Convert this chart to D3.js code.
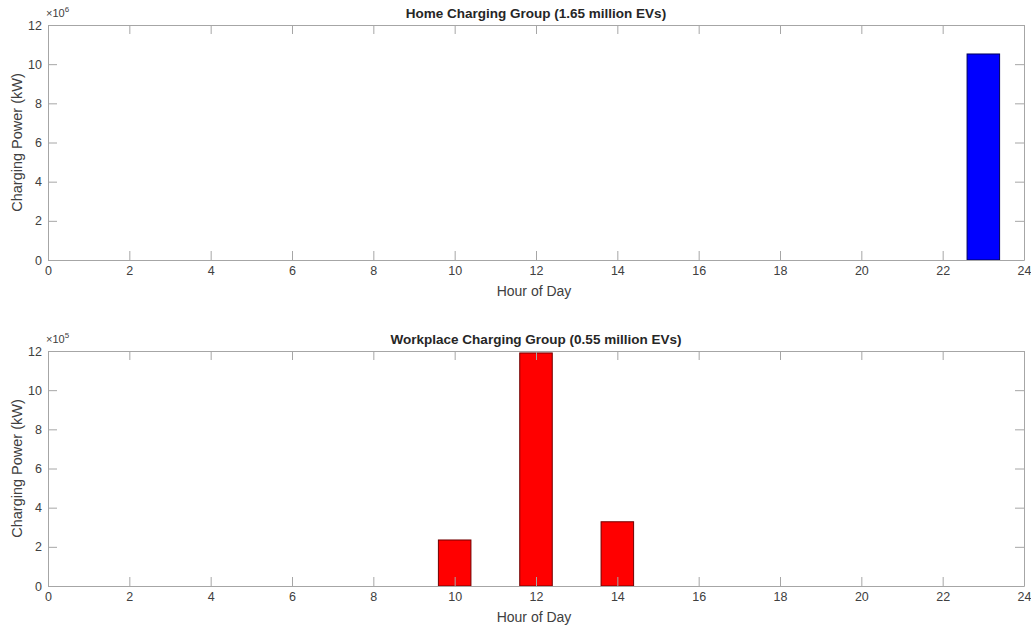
<!DOCTYPE html>
<html><head><meta charset="utf-8">
<script src="https://cdn.jsdelivr.net/npm/d3@7"></script>
<style>body{margin:0;background:#fff;font-family:"Liberation Sans",Arial,sans-serif}</style>
</head><body><svg id="c" width="1031" height="627"></svg>
<script>
const xTicks = [0,2,4,6,8,10,12,14,16,18,20,22,24];
const yTicks = [0,2,4,6,8,10,12];
const homeHours = [23];
const homeValues = [10.52e6];
const workHours = [10,12,14];
const workValues = [2.35e5,11.9e5,3.28e5];
const panels = [
  {title:"Home Charging Group (1.65 million EVs)", hours:homeHours, values:homeValues, exp:6, fill:"#0000ff", stroke:"#00005a", top:25, bottom:260},
  {title:"Workplace Charging Group (0.55 million EVs)", hours:workHours, values:workValues, exp:5, fill:"#ff0000", stroke:"#700000", top:351, bottom:586}
];
const svg = d3.select("#c");
const L = 48, R = 1024;
const axisColor = "#a6a6a6", textColor = "#404040";
panels.forEach(p => {
  const x = d3.scaleLinear().domain([0,24]).range([L,R]);
  const y = d3.scaleLinear().domain([0,12]).range([p.bottom,p.top]);
  const s = Math.pow(10,p.exp);
  const g = svg.append("g");
  g.selectAll("rect.bar").data(p.hours.map((h,i)=>({h,v:p.values[i]/s}))).enter().append("rect")
    .attr("x", d=>x(d.h-0.4)).attr("width", d=>x(d.h+0.4)-x(d.h-0.4))
    .attr("y", d=>y(d.v)).attr("height", d=>y(0)-y(d.v))
    .attr("fill", p.fill).attr("stroke", p.stroke).attr("stroke-width",1);
  const tl = 9;
  const ax = g.append("g").attr("transform",`translate(0,${p.bottom})`)
    .call(d3.axisBottom(x).tickValues(xTicks).tickSizeInner(-tl).tickSizeOuter(0).tickPadding(6));
  const axT = g.append("g").attr("transform",`translate(0,${p.top})`)
    .call(d3.axisTop(x).tickValues(xTicks).tickSizeInner(-tl).tickSizeOuter(0).tickFormat(""));
  const ay = g.append("g").attr("transform",`translate(${L},0)`)
    .call(d3.axisLeft(y).tickValues(yTicks).tickSizeInner(-tl).tickSizeOuter(0).tickPadding(6));
  const ayR = g.append("g").attr("transform",`translate(${R},0)`)
    .call(d3.axisRight(y).tickValues(yTicks).tickSizeInner(-tl).tickSizeOuter(0).tickFormat(""));
  [ax,axT,ay,ayR].forEach(a=>{
    a.selectAll("path").attr("stroke",axisColor);
    a.selectAll("line").attr("stroke",axisColor);
    a.selectAll("text").attr("fill",textColor).style("font-size","12.5px").style("font-family","Liberation Sans, Arial, sans-serif");
  });
  const e = g.append("text").attr("x",L-2).attr("y",p.top-8).attr("fill",textColor)
    .style("font-size","11px");
  e.append("tspan").text("×10");
  e.append("tspan").attr("dy",-5).style("font-size","8px").text(p.exp);
  g.append("text").attr("x",(L+R)/2).attr("y",p.top-7).attr("text-anchor","middle")
    .attr("fill","#262626").style("font-size","13.5px").style("font-weight","bold").text(p.title);
  g.append("text").attr("x",(L+R)/2 - 2).attr("y",p.bottom+36).attr("text-anchor","middle")
    .attr("fill",textColor).style("font-size","14px").text("Hour of Day");
  g.append("text").attr("transform",`translate(22,${(p.top+p.bottom)/2}) rotate(-90)`)
    .attr("text-anchor","middle").attr("fill",textColor).style("font-size","14.5px").text("Charging Power (kW)");
});
</script></body></html>
